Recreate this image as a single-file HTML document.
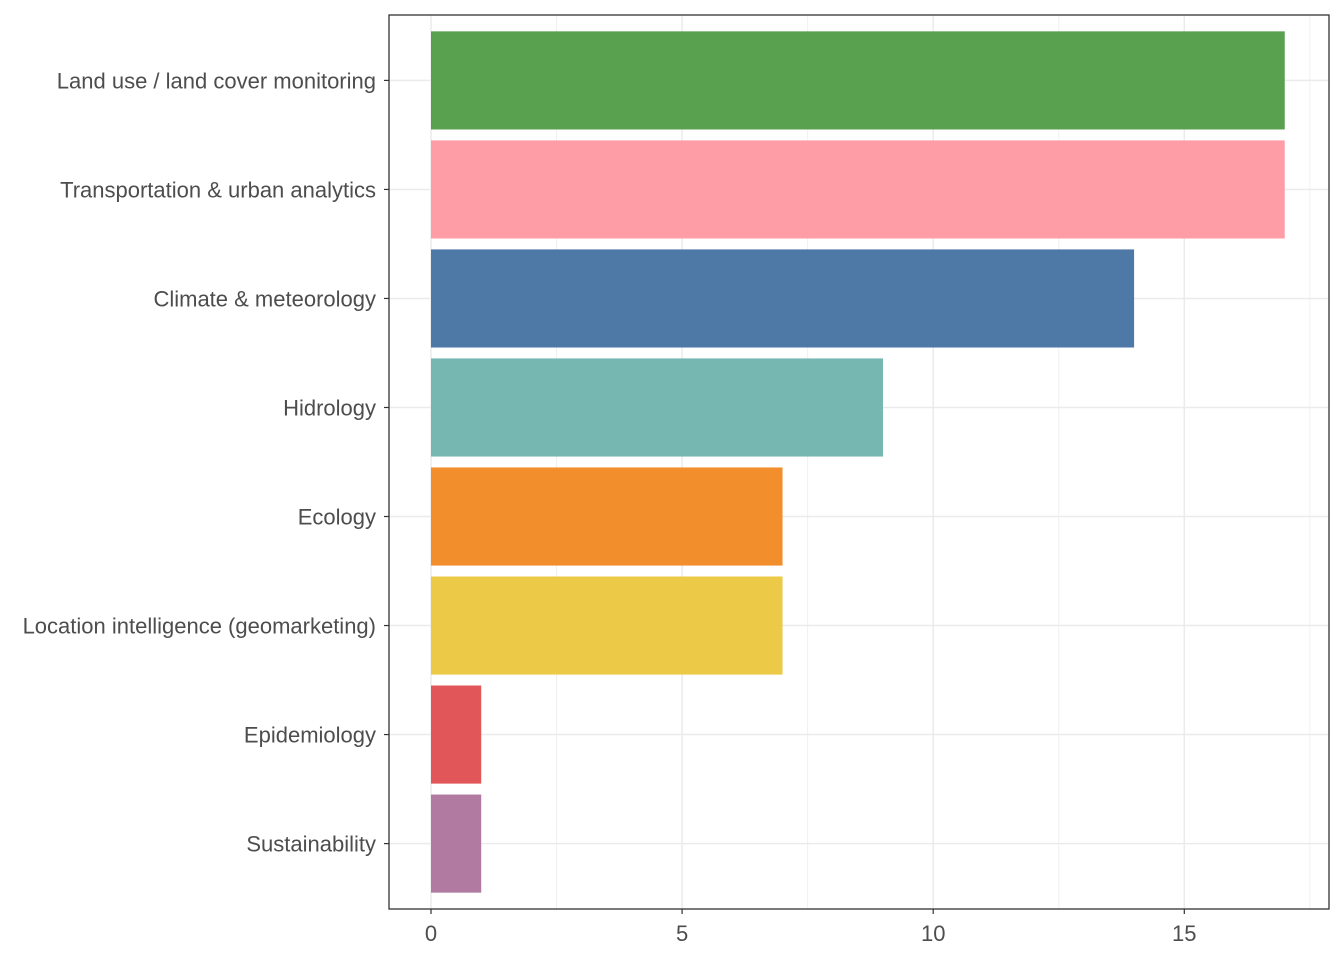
<!DOCTYPE html>
<html><head><meta charset="utf-8"><style>
body{margin:0;background:#fff;}
svg{display:block;font-family:"Liberation Sans",Arial,sans-serif;}
</style></head><body>
<svg id="chart" width="1344" height="960"></svg>
<script>
const categories=["Land use / land cover monitoring","Transportation & urban analytics","Climate & meteorology","Hidrology","Ecology","Location intelligence (geomarketing)","Epidemiology","Sustainability"];
const values=[17,17,14,9,7,7,1,1];
const colors=["#59a14f","#ff9da7","#4e79a7","#76b7b2","#f28e2b","#edc948","#e15759","#b07aa1"];
const xTicks=[0,5,10,15];
const NS="http://www.w3.org/2000/svg";
const svg=document.getElementById('chart');
const L=389,R=1329,T=15,B=909;
const x=v=>431+v*50.22;
const step=(B-T)/(categories.length-1+1.2);
const y=i=>T+step*(i+0.6);
const bh=step*0.9;
function mk(t,a){const e=document.createElementNS(NS,t);for(const k in a)e.setAttribute(k,a[k]);svg.appendChild(e);return e;}
for(let v=2.5;v<=17.5;v+=5){const g=mk('line',{x1:x(v),x2:x(v),y1:T,y2:B,stroke:'#f0f0f0','stroke-width':1});

}
xTicks.forEach(v=>{const g=mk('line',{x1:x(v),x2:x(v),y1:T,y2:B,stroke:'#ebebeb','stroke-width':1.5});

});
categories.forEach((c,i)=>{const g=mk('line',{x1:L,x2:R,y1:y(i),y2:y(i),stroke:'#ebebeb','stroke-width':1.5});

});
categories.forEach((c,i)=>{
const r=mk('rect',{x:x(0),y:y(i)-bh/2,width:x(values[i])-x(0),height:bh,fill:colors[i]});


const tk=mk('line',{x1:L-5,x2:L,y1:y(i),y2:y(i),stroke:'#333','stroke-width':1.2});


const t=mk('text',{x:L-13,y:y(i)+8,'text-anchor':'end','font-size':22,fill:'#4d4d4d'});
t.textContent=c;


});
xTicks.forEach(v=>{
const tk=mk('line',{x1:x(v),x2:x(v),y1:B,y2:B+5,stroke:'#333','stroke-width':1.2});


const t=mk('text',{x:x(v),y:B+32,'text-anchor':'middle','font-size':22,fill:'#4d4d4d'});
t.textContent=v;


});
const p=mk('rect',{x:L,y:T,width:R-L,height:B-T,fill:'none',stroke:'#333','stroke-width':1.3});


</script>
</body></html>
